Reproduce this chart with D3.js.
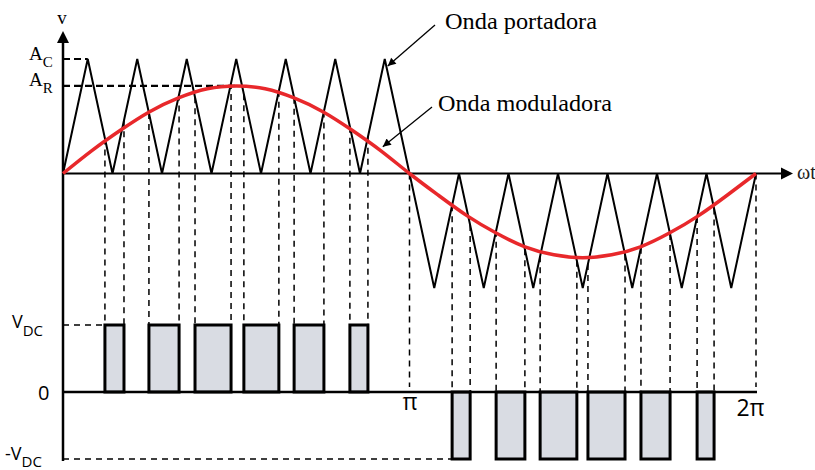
<!DOCTYPE html>
<html><head><meta charset="utf-8">
<script src="https://cdn.jsdelivr.net/npm/d3@7"></script>
<style>body{margin:0;background:#fff}svg{display:block}</style>
</head><body>
<svg id="c" width="815" height="470"></svg>
<script>
// ---- data (angles expressed in units of π) ----
const carrierValues = [0,1,0,1,0,1,0,1,0,1,0,1,0,1,0,-1,0,-1,0,-1,0,-1,0,-1,0,-1,0,-1,0];
const carrierAngles = d3.range(carrierValues.length).map(k => k / 14);
const modulatingValues = [0,0.20,0.38,0.54,0.66,0.74,0.765,0.74,0.66,0.54,0.38,0.20,0,
                          -0.19,-0.37,-0.52,-0.64,-0.71,-0.735,-0.71,-0.64,-0.52,-0.37,-0.19,0];
const modulatingAngles = d3.range(modulatingValues.length).map(k => k / 12);
const pulseStarts = [0.121,0.248,0.381,0.522,0.667,0.828,1.123,1.250,1.377,1.515,1.668,1.830];
const pulseEnds   = [0.176,0.335,0.485,0.623,0.753,0.880,1.175,1.333,1.483,1.622,1.752,1.879];
const pulseLevels = [1,1,1,1,1,1,-1,-1,-1,-1,-1,-1];
const carrierAmplitude = 1;
const modulatingAmplitude = 0.765;
const xTickValues = [1, 2];
const xTickLabels = ["π", "2π"];

// ---- scales ----
const svg = d3.select("#c");
const x = d3.scaleLinear().domain([0, 2]).range([63, 756]);
const yTop = d3.scaleLinear().domain([-1, 1]).range([288, 59]);
const yPwm = d3.scaleLinear().domain([-1, 1]).range([459, 325]);
const carrierAt = d3.scaleLinear().domain(carrierAngles).range(carrierValues);

const serif = "'Liberation Serif', 'Times New Roman', serif";
const sans = "'Open Sans', 'DejaVu Sans', sans-serif";

const pulses = pulseStarts.map((s, i) => ({s, e: pulseEnds[i], l: pulseLevels[i]}));

// ---- vertical dashed guides ----
const guides = [];
pulses.forEach(p => {
  [p.s, p.e].forEach(a => guides.push({a, y1: yTop(carrierAt(a)), y2: p.l > 0 ? yPwm(1) : yPwm(0)}));
});
xTickValues.forEach(a => guides.push({a, y1: yTop(0), y2: yPwm(0) - 5}));
svg.append("g").selectAll("line").data(guides).join("line")
  .attr("x1", d => x(d.a)).attr("x2", d => x(d.a))
  .attr("y1", d => d.y1).attr("y2", d => d.y2)
  .attr("stroke", "#000").attr("stroke-width", 1.5).attr("stroke-dasharray", "6,5");

// horizontal dashed guides for ±VDC
svg.append("line").attr("x1", x(0)).attr("x2", x(pulseStarts[0]))
  .attr("y1", yPwm(1)).attr("y2", yPwm(1))
  .attr("stroke", "#000").attr("stroke-width", 1.5).attr("stroke-dasharray", "6,5");
svg.append("line").attr("x1", x(0)).attr("x2", x(pulseStarts[6]))
  .attr("y1", yPwm(-1)).attr("y2", yPwm(-1))
  .attr("stroke", "#000").attr("stroke-width", 1.5).attr("stroke-dasharray", "6,5");

// A_C and A_R dashed guides
svg.append("line").attr("x1", x(0)).attr("x2", x(carrierAngles[1]))
  .attr("y1", yTop(carrierAmplitude)).attr("y2", yTop(carrierAmplitude))
  .attr("stroke", "#000").attr("stroke-width", 2.2).attr("stroke-dasharray", "7,4");
svg.append("line").attr("x1", x(0)).attr("x2", x(0.5))
  .attr("y1", yTop(modulatingAmplitude)).attr("y2", yTop(modulatingAmplitude))
  .attr("stroke", "#000").attr("stroke-width", 2.2).attr("stroke-dasharray", "7,4");

// ---- PWM pulses ----
svg.append("g").selectAll("rect").data(pulses).join("rect")
  .attr("x", d => x(d.s)).attr("width", d => x(d.e) - x(d.s))
  .attr("y", d => Math.min(yPwm(d.l), yPwm(0)))
  .attr("height", d => Math.abs(yPwm(d.l) - yPwm(0)))
  .attr("fill", "#d9dce3").attr("stroke", "#000").attr("stroke-width", 3);

// ---- carrier ----
svg.append("path")
  .datum(carrierValues.map((v, i) => [carrierAngles[i], v]))
  .attr("d", d3.line().x(d => x(d[0])).y(d => yTop(d[1])))
  .attr("fill", "none").attr("stroke", "#000").attr("stroke-width", 2);

// ---- axes ----
svg.append("line").attr("x1", x(0)).attr("x2", x(0)).attr("y1", 40).attr("y2", 461)
  .attr("stroke", "#000").attr("stroke-width", 2.5);
svg.append("path").attr("d", `M${x(0)},31 L${x(0)-6},43 L${x(0)+6},43 Z`).attr("fill", "#000");
svg.append("line").attr("x1", x(0)).attr("x2", 784).attr("y1", yTop(0)).attr("y2", yTop(0))
  .attr("stroke", "#000").attr("stroke-width", 2);
svg.append("path").attr("d", `M793,${yTop(0)} L781,${yTop(0)-6} L781,${yTop(0)+6} Z`).attr("fill", "#000");
svg.append("line").attr("x1", x(0)).attr("x2", x(2) + 1).attr("y1", yPwm(0)).attr("y2", yPwm(0))
  .attr("stroke", "#000").attr("stroke-width", 2.5);

// ---- modulating wave ----
svg.append("path")
  .datum(modulatingValues.map((v, i) => [modulatingAngles[i], v]))
  .attr("d", d3.line().curve(d3.curveNatural).x(d => x(d[0])).y(d => yTop(d[1])))
  .attr("fill", "none").attr("stroke", "#e8282b").attr("stroke-width", 3.5);

// ---- x tick labels (π, 2π) ----
const ax = svg.append("g").attr("transform", `translate(0,${yPwm(0)})`)
  .call(d3.axisBottom(x).tickValues(xTickValues).tickSize(0)
    .tickFormat((d, i) => xTickLabels[i]));
ax.select(".domain").remove();
ax.selectAll("text").attr("font-family", sans).attr("font-size", 23).attr("fill", "#000")
  .attr("y", 0).attr("dy", (d, i) => i === 0 ? 18 : 24).attr("dx", (d, i) => i === 0 ? 0 : -6);

// ---- y labels ----
const yl = svg.append("g").attr("font-family", sans).attr("fill", "#000");
const vdc = yl.append("text").attr("x", 12).attr("y", yPwm(1) + 3).attr("font-size", 18);
vdc.append("tspan").text("V");
vdc.append("tspan").attr("dy", 8).attr("font-size", 15).text("DC");
yl.append("text").attr("x", 38).attr("y", yPwm(0) + 8).attr("font-size", 20).text("0");
const mvdc = yl.append("text").attr("x", 5).attr("y", yPwm(-1) + 1).attr("font-size", 18);
mvdc.append("tspan").text("-V");
mvdc.append("tspan").attr("dy", 7).attr("font-size", 15).text("DC");

const tl = svg.append("g").attr("font-family", serif).attr("fill", "#000");
tl.append("text").attr("x", x(0) - 1).attr("y", 24).attr("text-anchor", "middle").attr("font-size", 19).text("v");
const ac = tl.append("text").attr("x", 29).attr("y", yTop(carrierAmplitude) + 1).attr("font-size", 19);
ac.append("tspan").text("A");
ac.append("tspan").attr("dy", 7).attr("font-size", 15).text("C");
const ar = tl.append("text").attr("x", 29).attr("y", yTop(modulatingAmplitude)).attr("font-size", 19);
ar.append("tspan").text("A");
ar.append("tspan").attr("dy", 7).attr("font-size", 15).text("R");
tl.append("text").attr("x", 797).attr("y", yTop(0) + 5).attr("font-size", 20).attr("fill", "#222").text("ωt");

tl.append("text").attr("x", 445).attr("y", 29).attr("font-size", 23)
  .attr("textLength", 152).attr("lengthAdjust", "spacingAndGlyphs").text("Onda portadora");
tl.append("text").attr("x", 438).attr("y", 111).attr("font-size", 23)
  .attr("textLength", 174).attr("lengthAdjust", "spacingAndGlyphs").text("Onda moduladora");

// ---- annotation arrows ----
svg.append("defs").append("marker").attr("id", "ah")
  .attr("viewBox", "0 0 10 10").attr("refX", 10).attr("refY", 5)
  .attr("markerWidth", 10).attr("markerHeight", 8).attr("markerUnits", "userSpaceOnUse")
  .attr("orient", "auto")
  .append("path").attr("d", "M0,0 L10,5 L0,10 Z").attr("fill", "#000");
const tip1 = [x(carrierAngles[13]) + 3, yTop(carrierAmplitude) + 7];
const tip2 = [x(0.923) , yTop(modulatingAmplitude * 0.238) - 6];
svg.append("line").attr("x1", 435).attr("y1", 25).attr("x2", tip1[0]).attr("y2", tip1[1])
  .attr("stroke", "#000").attr("stroke-width", 1.3).attr("marker-end", "url(#ah)");
svg.append("line").attr("x1", 432).attr("y1", 107).attr("x2", tip2[0]).attr("y2", tip2[1])
  .attr("stroke", "#000").attr("stroke-width", 1.3).attr("marker-end", "url(#ah)");
</script>
</body></html>
